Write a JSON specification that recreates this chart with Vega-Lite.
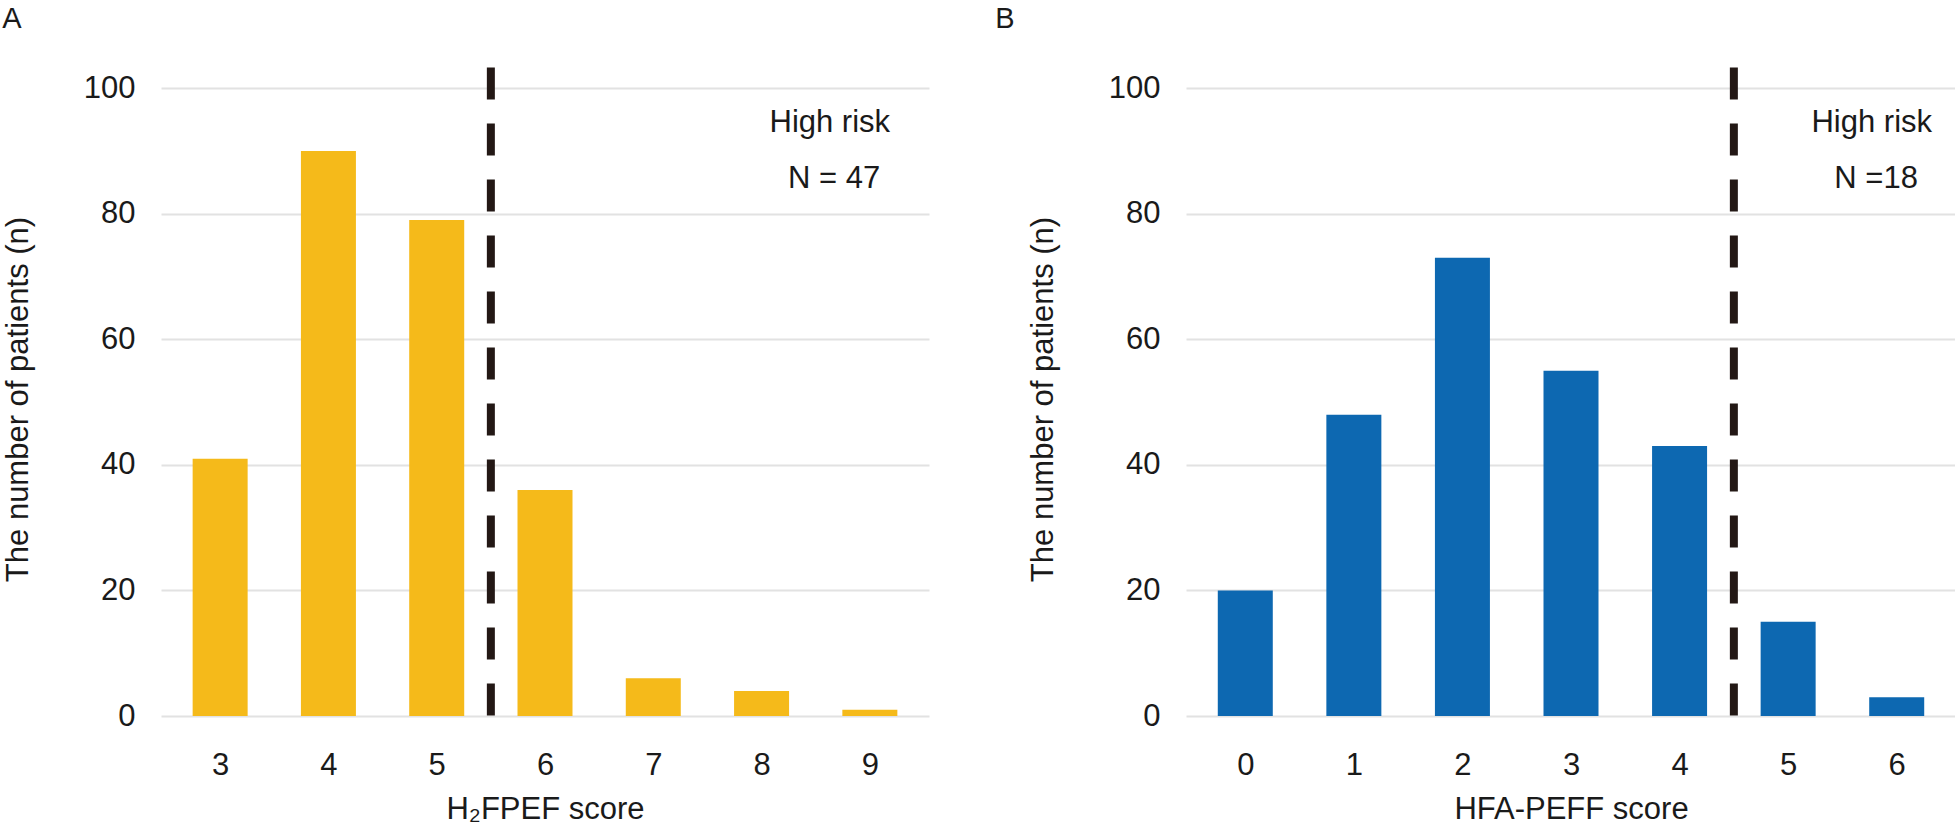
{
  "$schema": "https://vega.github.io/schema/vega-lite/v6.json",
  "padding": {"left": 2, "top": 4, "right": 0, "bottom": 0},
  "config": {
    "font": "Liberation Sans",
    "view": {"stroke": null},
    "axis": {
      "labelFontSize": 31,
      "titleFontSize": 31,
      "labelColor": "#1a1a1a",
      "titleColor": "#1a1a1a",
      "titleFontWeight": "normal",
      "ticks": false,
      "tickSize": 0,
      "domain": false
    },
    "axisY": {"grid": true, "gridColor": "#e2e2e2", "gridWidth": 2, "labelPadding": 26, "titlePadding": 49},
    "axisX": {"grid": false, "labelPadding": 34, "titlePadding": 14, "format": "d"},
    "title": {"fontSize": 29, "fontWeight": "normal", "anchor": "start", "frame": "bounds", "color": "#1a1a1a", "baseline": "top", "offset": 30}
  },
  "datasets": {
    "h2fpef": [
      {"score": 3, "n": 41},
      {"score": 4, "n": 90},
      {"score": 5, "n": 79},
      {"score": 6, "n": 36},
      {"score": 7, "n": 6},
      {"score": 8, "n": 4},
      {"score": 9, "n": 1}
    ],
    "hfapeff": [
      {"score": 0, "n": 20},
      {"score": 1, "n": 48},
      {"score": 2, "n": 73},
      {"score": 3, "n": 55},
      {"score": 4, "n": 43},
      {"score": 5, "n": 15},
      {"score": 6, "n": 3}
    ],
    "cutA": [{"score": 5.5, "top": 103.3, "base": 0}],
    "cutB": [{"score": 4.5, "top": 103.3, "base": 0}],
    "noteA": [
      {"label": "High risk", "x": 8.63, "y": 93.0},
      {"label": "N = 47", "x": 8.67, "y": 84.1}
    ],
    "noteB": [
      {"label": "High risk", "x": 5.77, "y": 93.0},
      {"label": "N =18", "x": 5.81, "y": 84.1}
    ]
  },
  "spacing": 66,
  "hconcat": [
    {
      "title": {"text": "A"},
      "width": 768,
      "height": 634,
      "layer": [
        {
          "data": {"name": "h2fpef"},
          "mark": {"type": "bar", "size": 55, "color": "#F5BA1A"},
          "encoding": {
            "x": {"field": "score", "type": "quantitative", "title": "H₂FPEF score",
                  "scale": {"domain": [2.5, 9.5], "nice": false, "zero": false},
                  "axis": {"values": [3, 4, 5, 6, 7, 8, 9]}},
            "y": {"field": "n", "type": "quantitative", "title": "The number of patients (n)",
                  "scale": {"domain": [0, 101], "nice": false},
                  "axis": {"values": [0, 20, 40, 60, 80, 100]}}
          }
        },
        {
          "data": {"name": "cutA"},
          "mark": {"type": "rule", "color": "#231815", "strokeWidth": 8, "strokeDash": [32, 24]},
          "encoding": {
            "x": {"field": "score", "type": "quantitative", "title": "H₂FPEF score"},
            "y": {"field": "top", "type": "quantitative", "title": "The number of patients (n)"},
            "y2": {"field": "base"}
          }
        },
        {
          "data": {"name": "noteA"},
          "mark": {"type": "text", "fontSize": 31, "color": "#1a1a1a", "baseline": "alphabetic", "align": "center"},
          "encoding": {
            "x": {"field": "x", "type": "quantitative", "title": "H₂FPEF score"},
            "y": {"field": "y", "type": "quantitative", "title": "The number of patients (n)"},
            "text": {"field": "label"}
          }
        }
      ]
    },
    {
      "title": {"text": "B", "dx": -32},
      "width": 770,
      "height": 634,
      "layer": [
        {
          "data": {"name": "hfapeff"},
          "mark": {"type": "bar", "size": 55, "color": "#0D68B1"},
          "encoding": {
            "x": {"field": "score", "type": "quantitative", "title": "HFA-PEFF score",
                  "scale": {"domain": [-0.5, 6.5], "nice": false, "zero": false},
                  "axis": {"values": [0, 1, 2, 3, 4, 5, 6]}},
            "y": {"field": "n", "type": "quantitative", "title": "The number of patients (n)",
                  "scale": {"domain": [0, 101], "nice": false},
                  "axis": {"values": [0, 20, 40, 60, 80, 100]}}
          }
        },
        {
          "data": {"name": "cutB"},
          "mark": {"type": "rule", "color": "#231815", "strokeWidth": 8, "strokeDash": [32, 24]},
          "encoding": {
            "x": {"field": "score", "type": "quantitative", "title": "HFA-PEFF score"},
            "y": {"field": "top", "type": "quantitative", "title": "The number of patients (n)"},
            "y2": {"field": "base"}
          }
        },
        {
          "data": {"name": "noteB"},
          "mark": {"type": "text", "fontSize": 31, "color": "#1a1a1a", "baseline": "alphabetic", "align": "center"},
          "encoding": {
            "x": {"field": "x", "type": "quantitative", "title": "HFA-PEFF score"},
            "y": {"field": "y", "type": "quantitative", "title": "The number of patients (n)"},
            "text": {"field": "label"}
          }
        }
      ]
    }
  ]
}
